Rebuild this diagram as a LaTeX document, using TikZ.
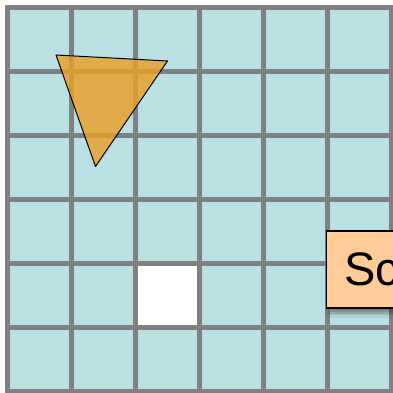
\documentclass[tikz,border=0pt]{standalone}
\usepackage{fontspec}
\setmainfont{Liberation Sans}
\usetikzlibrary{shadows.blur}
\definecolor{cellc}{RGB}{186,224,227}
\definecolor{gridc}{RGB}{128,128,128}
\definecolor{trif}{RGB}{234,160,40}
\definecolor{peach}{RGB}{255,204,153}
\tikzset{
  gridline/.style={draw=gridc, line width=5pt},
  tri/.style={fill=trif, fill opacity=0.82, draw=black, line width=1pt, line join=round},
  labelbox/.style={draw=black, line width=1.2pt, fill=peach, inner xsep=18pt, inner ysep=0pt,
    minimum height=77pt, anchor=west, font=\fontsize{47}{56}\selectfont,
    blur shadow={shadow xshift=3pt, shadow yshift=-5pt, shadow blur radius=4pt, shadow opacity=45}}
}
\begin{document}
\begin{tikzpicture}[x=1pt,y=-1pt]
\useasboundingbox (0,0) rectangle (393,393);
\fill[cellc] (7.5,7.5) rectangle (391.5,391.5);
\fill[white] (135.5,263.5) rectangle (199.5,327.5);
\foreach \i in {0,...,6} {
  \draw[gridline] (7.5+64*\i,5) -- (7.5+64*\i,394);
  \draw[gridline] (5,7.5+64*\i) -- (394,7.5+64*\i);
}
\coordinate (ta) at (56,55);
\coordinate (tb) at (167.5,61);
\coordinate (tc) at (95.5,166.5);
\path[tri] (ta) -- (tb) -- (tc) -- cycle;
\node[labelbox] (sc) at (326,269.5) {Sc};
\end{tikzpicture}
\end{document}
